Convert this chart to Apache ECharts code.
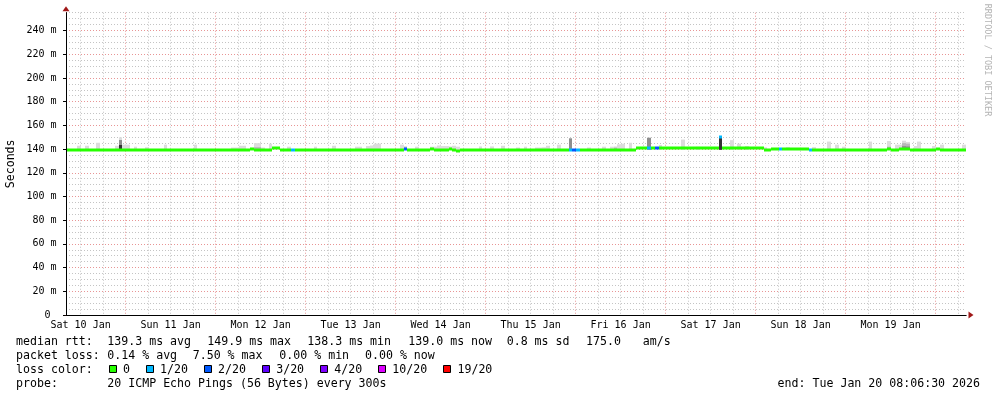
<!DOCTYPE html>
<html><head><meta charset="utf-8">
<script src="https://cdn.jsdelivr.net/npm/echarts@6/dist/echarts.min.js"></script>
<style>html,body{margin:0;padding:0;background:#fff}#c{width:997px;height:397px}</style>
</head><body><div id="c"></div>
<script>
// ---------- DATA ----------
const dayLabels = ['Sat 10 Jan','Sun 11 Jan','Mon 12 Jan','Tue 13 Jan','Wed 14 Jan','Thu 15 Jan','Fri 16 Jan','Sat 17 Jan','Sun 18 Jan','Mon 19 Jan'];
const yTickValues = [0,20,40,60,80,100,120,140,160,180,200,220,240];
const endTime = 'Tue Jan 20 08:06:30 2026';
const windowHours = 240;            // 10 days shown
const startHourOfDay = 8 + 6.5/60;  // window starts Sat 10 Jan 08:06:30

// median rtt (ms), one value per hour since window start
const medianRtt = [
 139.3,139.3,139.3,139.3,139.3,139.3,139.3,139.3,139.3,139.3,139.3,139.3,139.3,139.3,139.3,139.3,139.3,139.3,139.3,139.3,139.3,139.3,139.3,139.3,
 139.3,139.3,139.3,139.3,139.3,139.3,139.3,139.3,139.3,139.3,139.3,139.3,139.3,139.3,139.3,139.3,139.3,139.3,139.3,139.3,139.3,139.3,139.3,139.3,
 139.3,139.8,139.3,139.3,139.3,139.3,139.3,140.6,140.6,139.3,139.3,139.3,139.3,139.3,139.3,139.3,139.3,139.3,139.3,139.3,139.3,139.3,139.3,139.3,
 139.3,139.3,139.3,139.3,139.3,139.3,139.3,139.3,139.3,139.3,139.3,139.3,139.3,139.3,139.3,139.3,139.3,139.3,140.3,139.3,139.3,139.3,139.3,139.3,
 139.3,139.7,139.3,139.3,139.3,139.3,139.7,139.3,138.3,139.3,139.3,139.3,139.3,139.3,139.3,139.3,139.3,139.3,139.3,139.3,139.3,139.3,139.3,139.3,
 139.3,139.3,139.3,139.3,139.3,139.3,139.3,139.3,139.3,139.3,139.3,139.3,139.3,139.3,139.3,139.0,139.6,139.3,139.3,139.3,139.3,139.3,139.3,139.3,
 139.3,139.3,139.3,139.3,139.3,139.3,139.3,139.3,140.6,140.6,140.6,140.6,140.6,140.6,140.6,140.6,140.6,140.6,140.6,140.6,140.6,140.6,140.6,140.6,
 140.6,140.6,140.6,140.6,140.6,140.6,149.9,140.6,140.6,140.6,140.6,140.6,140.6,140.6,140.6,140.6,140.6,140.6,139.0,139.3,140.3,140.3,140.3,140.3,
 140.3,140.3,140.3,140.3,140.3,140.3,139.2,139.3,139.3,139.3,139.3,139.3,139.3,139.3,139.3,139.3,139.3,139.3,139.3,139.3,139.3,139.3,139.3,139.3,
 139.3,139.3,139.3,139.7,139.3,139.3,139.8,139.8,139.8,139.3,139.3,139.3,139.3,139.3,139.3,139.3,139.7,139.3,139.3,139.3,139.3,139.3,139.3,139.0
];
// lost pings (out of 20) per hour: [hour, lost]
const lossEvents = [[60,1],[90,2],[134,1],[135,2],[136,1],[155,1],[157,2],[174,1],[190,1],[198,1]];
// smoke: [hour, lowest ping, outer top, 2nd band top, 3rd band top, core band top]
const smoke = [
 [3,139.3,142.8],[5,139.3,142.8],[8,139.3,145.3],[13,139.3,142.8],[14,139.3,149.9,null,147.6,143.4],
 [15,139.3,143.7],[16,139.3,143.7],[18,139.3,142.0],[21,139.3,141.5],[26,139.3,143.7],[34,139.3,143.7],
 [44,139.3,141.3],[45,139.3,141.3],[46,139.3,142.8],[47,139.3,142.8],[49,139.3,141.0],
 [50,139.3,145.0,141.6],[51,139.3,145.0,141.6],[52,139.3,141.3],[54,139.3,144.5],[59,139.3,142.0],
 [66,139.3,142.0],[71,139.3,142.8],[77,139.3,142.0],[78,139.3,142.0],[80,139.3,142.5],[81,139.3,143.0],
 [82,139.3,144.6],[83,139.3,144.6],[89,139.3,143.7],[90,139.3,142.5,141.5],[93,139.3,142.0],
 [97,139.3,142.0],[98,139.3,142.0],[99,139.3,143.0],[100,139.3,142.5],[101,139.3,142.5],[102,139.3,142.2],
 [103,139.3,142.8],[104,139.3,142.0],[110,139.3,142.2],[113,139.3,142.2],[116,139.3,142.8],
 [120,139.3,141.3],[122,139.3,142.0],[125,139.3,141.3],[126,139.3,141.3],[127,139.3,141.5],[128,139.3,142.8],
 [131,139.3,143.7],[134,139.3,149.0,null,149.0],[139,139.3,141.3],[143,139.3,142.0],[145,139.3,142.0],
 [146,139.3,142.2,141.2],[147,139.3,144.0],[148,139.3,144.5],[150,139.3,145.3],[155,139.3,149.5,null,149.5],
 [158,139.3,143.5],[164,139.3,148.0],[168,139.3,141.9],[174,139.3,150.3,null,null,150.3],[177,139.3,147.5],
 [179,139.3,144.5],[181,139.3,142.5],[186,139.3,141.5],[192,139.3,141.5],[199,139.3,141.6],[203,139.3,146.3],
 [205,139.3,143.7],[207,139.3,142.0],[214,139.3,146.3],[219,139.3,146.8,142.0],[221,139.3,143.7],[222,139.3,143.7],
 [223,139.3,147.0,145.0,142.5],[224,139.3,146.0,144.5,142.2],[226,139.3,142.5],[227,139.3,146.3],[231,139.3,142.5],
 [233,139.3,143.7],[239,139.3,143.7]
];
const lossLegend = ['0','1/20','2/20','3/20','4/20','10/20','19/20'];
const lossLegendCount = [0,1,2,3,4,10,19];
const rttStats = [139.3,149.9,138.3,139.0];
const rttStatNames = ['avg','max','min','now'];
const rttSd = 0.8;
const rttAmS = 175.0;
const lossStats = [0.14,7.50,0.00,0.00];
const probeText = '20 ICMP Echo Pings (56 Bytes) every 300s';

// ---------- STYLE / LAYOUT ----------
const lossColors = {0:'#26ff00',1:'#00b8ff',2:'#0059ff',3:'#5e00ff',4:'#7e00ff',10:'#dd00ff',19:'#ff0000'};
const shades = ['#dcdcdc','#b8b8b8','#8e8e8e','#333333'];
const MONO = '"DejaVu Sans Mono", monospace';
const L = 66, W = 900, B = 315;
const pxh = W / windowHours;
const ypx = (315 - 30.5) / 240;
const yMaxMinor = 255;
const topMinor = B - yMaxMinor * ypx;
const gridAt = (h0, h1, top) => ({left: L + (h0 - startHourOfDay) * pxh, width: (h1 - h0) * pxh, top: top, height: B - top, outerBoundsMode: 'none', containLabel: false});
const GRAY = '#c4c4c4', RED = '#e89595';
const minorGray = {color: GRAY, type: [1, 2], width: 1};
const majorRed = {color: RED, type: [1, 2], width: 1};

const lossMap = {};
lossEvents.forEach(e => { lossMap[e[0]] = e[1]; });
const medianData = medianRtt.map((v, h) => [h, v, lossMap[h] || 0]);
const smokeData = smoke.map(s => { const r = s.slice(); while (r.length < 6) r.push(null); return r.map(v => v == null ? '-' : v); });

const hidden = {show: false};
const bareAxis = (o) => Object.assign({type: 'value', axisLine: hidden, axisTick: hidden, axisLabel: hidden, splitLine: hidden}, o);

const chart = echarts.init(document.getElementById('c'), null, {renderer: 'canvas'});

// legend graphics
const g = [];
const T = (text, x, y, extra) => g.push(Object.assign({type: 'text', x: x, y: y, style: {text: text, font: '11.6px ' + MONO, fill: '#000', verticalAlign: 'middle', align: 'left'}}, extra || {}));
const y1 = 341.5, y2 = 355.5, y3 = 369.5, y4 = 383.5;
T('median rtt:', 16, y1);
const rttX = [107.3, 207.3, 307.3, 408.3];
rttStats.forEach((v, i) => T(v.toFixed(1) + ' ms ' + rttStatNames[i], rttX[i], y1));
T(rttSd.toFixed(1) + ' ms sd', 506.7, y1);
T(rttAmS.toFixed(1), 586, y1);
T('am/s', 642.7, y1);
T('packet loss:', 16, y2);
const lossX = [107.3, 192.7, 279.3, 365];
lossStats.forEach((v, i) => T(v.toFixed(2) + ' % ' + rttStatNames[i], lossX[i], y2));
T('loss color:', 16, y3);
let lx = 108.5;
lossLegend.forEach((lab, i) => {
  g.push({type: 'rect', shape: {x: Math.round(lx) + 0.5, y: 365.5, width: 7, height: 7}, style: {fill: lossColors[lossLegendCount[i]], stroke: '#000', lineWidth: 1}});
  T(lab, lx + 14.5, y3);
  lx = lx + 14.5 + lab.length * 7.02 + 15.5;
});
T('probe:', 16, y4);
T(probeText, 107.3, y4);
g.push({type: 'text', x: 980, y: y4, style: {text: 'end: ' + endTime, font: '11.6px ' + MONO, fill: '#000', verticalAlign: 'middle', align: 'right'}});
g.push({type: 'text', x: 987, y: 60, rotation: -Math.PI / 2, style: {text: 'RRDTOOL / TOBI OETIKER', font: '8.5px ' + MONO, fill: '#b4b4b4', verticalAlign: 'middle', align: 'center'}});

const option = {
  animation: false,
  backgroundColor: '#ffffff',
  textStyle: {fontFamily: MONO},
  graphic: g,
  grid: [
    gridAt(startHourOfDay, startHourOfDay + windowHours, topMinor),      // 0 data + minor y
    gridAt(startHourOfDay, startHourOfDay + windowHours, B - 240 * ypx), // 1 major y + labels
    gridAt(12, 246, topMinor),                                           // 2 6-hour + midnight lines
    gridAt(12, 228, topMinor),                                           // 3 day labels
    gridAt(startHourOfDay, startHourOfDay + windowHours, topMinor),      // 4 black axis lines
    gridAt(startHourOfDay, startHourOfDay + windowHours, topMinor)       // 5 red arrows
  ],
  xAxis: [
    bareAxis({gridIndex: 0, min: 0, max: windowHours}),
    bareAxis({gridIndex: 1, min: 0, max: windowHours}),
    // ticks at 12h,18h,24h(midnight),30h,... -> every 4th line is a day boundary
    bareAxis({gridIndex: 2, min: 12, max: 246, interval: 6, splitLine: {show: true, lineStyle: {color: [GRAY, GRAY, RED, GRAY], type: [1, 2], width: 1}, showMinLine: true, showMaxLine: true}}),
    bareAxis({gridIndex: 3, min: 12, max: 228, interval: 24, axisLabel: {show: true, margin: 5, color: '#000', fontFamily: MONO, fontSize: 10, showMinLabel: true, showMaxLabel: true, hideOverlap: false, formatter: v => dayLabels[Math.round((v - 12) / 24)] || ''}}),
    bareAxis({gridIndex: 4, min: 0, max: windowHours, z: 4, axisLine: {show: true, onZero: false, lineStyle: {color: '#000', width: 1}}}),
    bareAxis({gridIndex: 5, min: 0, max: windowHours, z: 3, axisLine: {show: true, onZero: false, symbol: ['none', 'triangle'], symbolSize: [7, 5], symbolOffset: [0, 5], lineStyle: {color: '#a01818', width: 1}}})
  ],
  yAxis: [
    bareAxis({gridIndex: 0, min: 0, max: yMaxMinor, interval: 5, splitLine: {show: true, lineStyle: minorGray}, name: 'Seconds', nameLocation: 'middle', nameGap: 49, nameRotate: 90, nameTextStyle: {fontFamily: MONO, fontSize: 11.6, color: '#000'}}),
    bareAxis({gridIndex: 1, min: 0, max: 240, interval: 20, splitLine: {show: true, lineStyle: majorRed}, axisTick: {show: true, length: 3, lineStyle: {color: '#000'}}, axisLabel: {show: true, margin: 9.5, color: '#000', fontFamily: MONO, fontSize: 10, formatter: v => v === 0 ? '0 ' : v + ' m'}}),
    bareAxis({gridIndex: 2, min: 0, max: yMaxMinor}),
    bareAxis({gridIndex: 3, min: 0, max: yMaxMinor}),
    bareAxis({gridIndex: 4, min: 0, max: yMaxMinor, z: 4, axisLine: {show: true, onZero: false, lineStyle: {color: '#000', width: 1}}}),
    bareAxis({gridIndex: 5, min: 0, max: yMaxMinor, z: 3, axisLine: {show: true, onZero: false, symbol: ['none', 'triangle'], symbolSize: [7, 5], symbolOffset: [0, 4], lineStyle: {color: '#a01818', width: 1}}})
  ],
  series: [
    {
      type: 'custom', xAxisIndex: 0, yAxisIndex: 0, z: 2, silent: true,
      data: smokeData,
      encode: {x: 0, y: [1, 2]},
      renderItem: (params, api) => {
        const h = api.value(0), low = api.value(1);
        const p0 = api.coord([h, low]);
        const x0 = Math.round(p0[0]), x1 = Math.round(api.coord([h + 1, low])[0]);
        const ch = [];
        for (let k = 0; k < 4; k++) {
          const top = api.value(2 + k);
          if (top == null || isNaN(top)) continue;
          const yt = api.coord([h, top])[1];
          ch.push({type: 'rect', shape: {x: x0, y: yt, width: x1 - x0, height: p0[1] - yt}, style: {fill: shades[k]}});
        }
        return {type: 'group', children: ch};
      }
    },
    {
      type: 'custom', xAxisIndex: 0, yAxisIndex: 0, z: 3, silent: true,
      data: medianData,
      encode: {x: 0, y: 1},
      renderItem: (params, api) => {
        const h = api.value(0), v = api.value(1), loss = api.value(2);
        const p = api.coord([h, v]);
        const x0 = Math.round(p[0]), x1 = Math.round(api.coord([h + 1, v])[0]);
        return {type: 'rect', shape: {x: x0, y: Math.round(p[1]) - 1.5, width: x1 - x0, height: 3}, style: {fill: lossColors[loss] || lossColors[0]}};
      }
    }
  ]
};
chart.setOption(option);
</script>
</body></html>
